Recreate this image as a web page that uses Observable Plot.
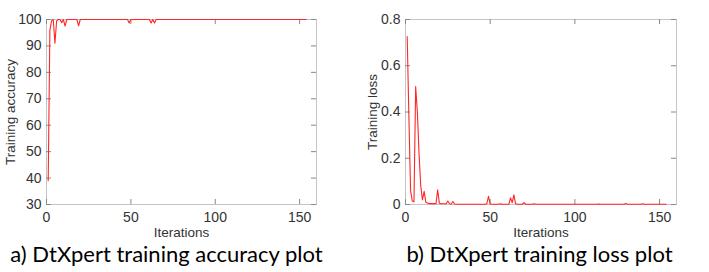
<!DOCTYPE html>
<html>
<head>
<meta charset="utf-8">
<script src="https://cdn.jsdelivr.net/npm/d3@7"></script>
<script src="https://cdn.jsdelivr.net/npm/@observablehq/plot@0.6"></script>
<style>
  html, body { margin: 0; padding: 0; background: #fff; }
  #wrap { position: relative; width: 709px; height: 272px; overflow: hidden; }
  .panel { position: absolute; top: 0; }
  .cap { position: absolute; top: 243px; height: 24px; line-height: 22px; font-family: Lato, "Open Sans", sans-serif; font-size: 22px; color: #000; white-space: nowrap; text-align: center; }
</style>
</head>
<body>
<div id="wrap">
  <div id="pa" class="panel" style="left:0px"></div>
  <div id="pb" class="panel" style="left:354px"></div>
  <div class="cap" id="capA" style="left:0px; width:333px">a) DtXpert training accuracy plot</div>
  <div class="cap" id="capB" style="left:370px; width:339px">b) DtXpert training loss plot</div>
</div>
<script>
// Iteration ticks
const xTicks = [0, 50, 100, 150];
const accTicks = [30, 40, 50, 60, 70, 80, 90, 100];
const lossTicks = [0, 0.2, 0.4, 0.6, 0.8];

// Training accuracy per iteration (iterations 1..154)
const accuracy = [
  39, 96, 99.5, 100, 91, 99.5, 100, 100, 98.8, 100,
  97.5, 100, 100, 100, 100, 100, 100, 100, 97.6, 100,
  100, 100, 100, 100, 100, 100, 100, 100, 100, 100,
  100, 100, 100, 100, 100, 100, 100, 100, 100, 100,
  100, 100, 100, 100, 100, 100, 100, 100, 98.7, 100,
  100, 100, 100, 100, 100, 100, 100, 100, 100, 100,
  100, 98.7, 100, 98.7, 100, 100, 100, 100, 100, 100,
  100, 100, 100, 100, 100, 100, 100, 100, 100, 100,
  100, 100, 100, 100, 100, 100, 100, 100, 100, 100,
  100, 100, 100, 100, 100, 100, 100, 100, 100, 100,
  100, 100, 100, 100, 100, 100, 100, 100, 100, 100,
  100, 100, 100, 100, 100, 100, 100, 100, 100, 100,
  100, 100, 100, 100, 100, 100, 100, 100, 100, 100,
  100, 100, 100, 100, 100, 100, 100, 100, 100, 100,
  100, 100, 100, 100, 100, 100, 100, 100, 100, 100,
  100, 100, 100, 100
];

// Training loss per iteration (iterations 1..154)
const loss = [
  0.726, 0.38, 0.06, 0.015, 0.012, 0.51, 0.40, 0.22, 0.08, 0.02,
  0.057, 0.01, 0.006, 0.004, 0.004, 0.004, 0.004, 0.003, 0.064, 0.005,
  0.003, 0.003, 0.003, 0.003, 0.015, 0.003, 0.002, 0.013, 0.002, 0.001,
  0.001, 0.001, 0.001, 0.001, 0.001, 0.001, 0.001, 0.001, 0.001, 0.001,
  0.001, 0.001, 0.001, 0.001, 0.001, 0.001, 0.001, 0.003, 0.035, 0.002,
  0.001, 0.001, 0.001, 0.001, 0.001, 0.003, 0.001, 0.001, 0.001, 0.001,
  0.001, 0.029, 0.008, 0.042, 0.003, 0.001, 0.001, 0.001, 0.001, 0.008,
  0.001, 0.001, 0.001, 0.001, 0.001, 0.003, 0.001, 0.001, 0.001, 0.001,
  0.001, 0.001, 0.001, 0.001, 0.001, 0.001, 0.001, 0.001, 0.001, 0.001,
  0.001, 0.001, 0.001, 0.001, 0.001, 0.001, 0.001, 0.001, 0.001, 0.001,
  0.001, 0.001, 0.001, 0.001, 0.001, 0.001, 0.001, 0.001, 0.001, 0.001,
  0.001, 0.001, 0.001, 0.002, 0.001, 0.001, 0.001, 0.001, 0.001, 0.001,
  0.001, 0.001, 0.001, 0.001, 0.001, 0.001, 0.001, 0.001, 0.001, 0.004,
  0.001, 0.001, 0.001, 0.001, 0.001, 0.001, 0.001, 0.001, 0.001, 0.003,
  0.001, 0.001, 0.001, 0.001, 0.001, 0.001, 0.001, 0.001, 0.001, 0.001,
  0.001, 0.001, 0.001, 0.001
];

const frameColor = "#c4c4c4";
const textColor = "#333333";
const lineColor = "#ff2626";

function panel({values, yDomain, yTicks, yLabel, width, marginLeft, marginRight, yLabelDx, yFormat}) {
  const H = 241, mt = 19, mb = 37;
  const innerW = width - marginLeft - marginRight;
  const innerH = H - mt - mb;
  const tl = 5;
  return Plot.plot({
    width, height: H, marginLeft, marginRight, marginTop: mt, marginBottom: mb,
    style: {fontFamily: "'Liberation Sans', Arial, sans-serif", color: textColor, background: "transparent"},
    x: {domain: [0, 160]},
    y: {domain: yDomain},
    marks: [
      Plot.frame({stroke: frameColor}),
      // inward ticks: bottom & top
      Plot.ruleX(xTicks, {x: d => d, stroke: "#888", insetTop: innerH - tl}),
      Plot.ruleX(xTicks, {x: d => d, stroke: "#888", insetBottom: innerH - tl}),
      // inward ticks: left & right
      Plot.ruleY(yTicks, {y: d => d, stroke: "#888", insetRight: innerW - tl}),
      Plot.ruleY(yTicks, {y: d => d, stroke: "#888", insetLeft: innerW - tl}),
      Plot.axisX({ticks: xTicks, tickSize: 0, tickPadding: 8, fontSize: 14, label: null, fill: textColor}),
      Plot.axisY({ticks: yTicks, tickSize: 0, tickPadding: 5, fontSize: 14, label: null, fill: textColor, tickFormat: yFormat}),
      Plot.text(["Iterations"], {frameAnchor: "bottom", dy: 28, fontSize: 13.5, fill: textColor, textAnchor: "middle", lineAnchor: "middle"}),
      Plot.text([yLabel], {frameAnchor: "left", rotate: -90, dx: yLabelDx, fontSize: 13.5, fill: textColor, textAnchor: "middle", lineAnchor: "middle"}),
      Plot.line(values, {x: (d, i) => i + 1, y: d => d, stroke: lineColor, strokeWidth: 1.1})
    ]
  });
}

document.getElementById("pa").appendChild(panel({
  values: accuracy, yDomain: [30, 100], yTicks: accTicks, yLabel: "Training accuracy",
  width: 354, marginLeft: 46, marginRight: 38, yLabelDx: -36, yFormat: d => String(d)
}));
document.getElementById("pb").appendChild(panel({
  values: loss, yDomain: [0, 0.8], yTicks: lossTicks, yLabel: "Training loss",
  width: 355, marginLeft: 51, marginRight: 33, yLabelDx: -33, yFormat: d => String(d)
}));
</script>
</body>
</html>
